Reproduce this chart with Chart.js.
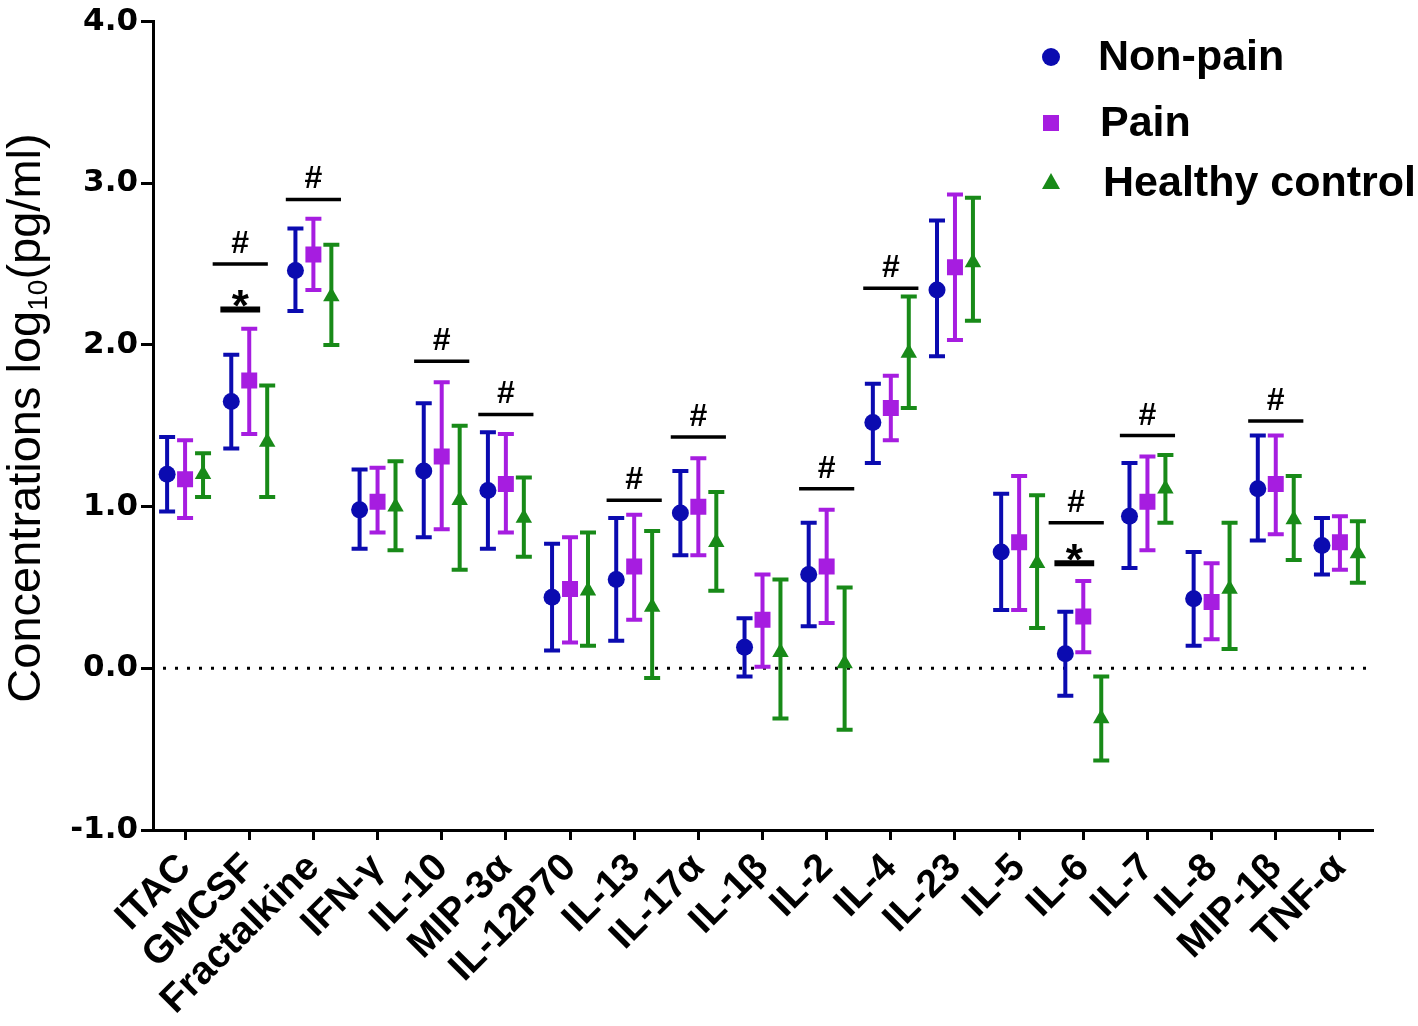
<!DOCTYPE html>
<html>
<head>
<meta charset="utf-8">
<script src="https://cdn.jsdelivr.net/npm/chart.js@4/dist/chart.umd.min.js"></script>
<style>
  html, body { margin: 0; padding: 0; background: #fff; }
  #wrap { width: 1418px; height: 1026px; position: relative; }
</style>
</head>
<body>
<div id="wrap"><canvas id="chart"></canvas></div>
<script>
// categories (x axis)
var categories = ['ITAC', 'GMCSF', 'Fractalkine', 'IFN-γ', 'IL-10', 'MIP-3α', 'IL-12P70', 'IL-13', 'IL-17α',
    'IL-1β', 'IL-2', 'IL-4', 'IL-23', 'IL-5', 'IL-6', 'IL-7', 'IL-8', 'MIP-1β', 'TNF-α'];

// Non-pain : mean, lower / upper end of error bar
var nonPainMean = [1.20, 1.65, 2.46, 0.98, 1.22, 1.10, 0.44, 0.55, 0.96, 0.13, 0.58, 1.52, 2.34, 0.72, 0.09, 0.94, 0.43, 1.11, 0.76];
var nonPainLow  = [0.97, 1.36, 2.21, 0.74, 0.81, 0.74, 0.11, 0.17, 0.70, -0.05, 0.26, 1.27, 1.93, 0.36, -0.17, 0.62, 0.14, 0.79, 0.58];
var nonPainHigh = [1.43, 1.94, 2.72, 1.23, 1.64, 1.46, 0.77, 0.93, 1.22, 0.31, 0.90, 1.76, 2.77, 1.08, 0.35, 1.27, 0.72, 1.44, 0.93];

// Pain
var painMean = [1.17, 1.78, 2.56, 1.03, 1.31, 1.14, 0.49, 0.63, 1.00, 0.30, 0.63, 1.61, 2.48, 0.78, 0.32, 1.03, 0.41, 1.14, 0.78];
var painLow  = [0.93, 1.45, 2.34, 0.84, 0.86, 0.84, 0.16, 0.30, 0.70, 0.01, 0.28, 1.41, 2.03, 0.36, 0.10, 0.73, 0.18, 0.83, 0.61];
var painHigh = [1.41, 2.10, 2.78, 1.24, 1.77, 1.45, 0.81, 0.95, 1.30, 0.58, 0.98, 1.81, 2.93, 1.19, 0.54, 1.31, 0.65, 1.44, 0.94];

// Healthy control
var healthyMean = [1.20, 1.40, 2.30, 1.00, 1.04, 0.93, 0.48, 0.38, 0.78, 0.10, 0.03, 1.95, 2.51, 0.65, -0.31, 1.11, 0.49, 0.92, 0.71];
var healthyLow  = [1.06, 1.06, 2.00, 0.73, 0.61, 0.69, 0.14, -0.06, 0.48, -0.31, -0.38, 1.61, 2.15, 0.25, -0.57, 0.90, 0.12, 0.67, 0.53];
var healthyHigh = [1.33, 1.75, 2.62, 1.28, 1.50, 1.18, 0.84, 0.85, 1.09, 0.55, 0.50, 2.30, 2.91, 1.07, -0.05, 1.32, 0.90, 1.19, 0.91];

// significance marks: x position (category index), y level, symbol
var sigX      = [0.86, 0.86, 2, 4, 5, 7, 8, 10, 11, 13.89, 13.86, 15, 17];
var sigLevel  = [2.50, 2.22, 2.90, 1.90, 1.57, 1.04, 1.43, 1.11, 2.35, 0.90, 0.65, 1.44, 1.53];
var sigSymbol = ['#', '*', '#', '#', '#', '#', '#', '#', '#', '#', '*', '#', '#'];

var yTicks = [-1, 0, 1, 2, 3, 4];

var groupNames = ['Non-pain', 'Pain', 'Healthy control'];
var groupColors = ['#0b0bb0', '#a61de0', '#188a18'];
var groupShift = [-0.28, 0, 0.28];

function buildPoints(mean, low, high, shift) {
    var pts = [];
    for (var i = 0; i < mean.length; i++) {
        pts.push({x: i + shift, y: mean[i], low: low[i], high: high[i]});
    }
    return pts;
}

var FONT = "'Liberation Sans', Arial, sans-serif";

/* error bars + zero line */
var errorBarPlugin = {
    id: 'errorBars',
    beforeDatasetsDraw: function (chart) {
        var ctx = chart.ctx;
        var xs = chart.scales.x, ys = chart.scales.y;
        var area = chart.chartArea;

        // dotted line at 0
        var y0 = ys.getPixelForValue(0);
        ctx.save();
        ctx.strokeStyle = '#000';
        ctx.lineWidth = 3;
        ctx.setLineDash([3, 9]);
        ctx.beginPath();
        ctx.moveTo(area.left + 10, y0);
        ctx.lineTo(area.right, y0);
        ctx.stroke();
        ctx.restore();

        chart.data.datasets.forEach(function (ds) {
            ctx.save();
            ctx.strokeStyle = ds.borderColor;
            ctx.lineWidth = 4;
            ds.data.forEach(function (p) {
                var x = xs.getPixelForValue(p.x);
                var yl = ys.getPixelForValue(p.low);
                var yh = ys.getPixelForValue(p.high);
                ctx.beginPath();
                ctx.moveTo(x, yl);
                ctx.lineTo(x, yh);
                ctx.moveTo(x - 8, yl);
                ctx.lineTo(x + 8, yl);
                ctx.moveTo(x - 8, yh);
                ctx.lineTo(x + 8, yh);
                ctx.stroke();
            });
            ctx.restore();
        });
    }
};

/* # and * marks over the groups */
var sigPlugin = {
    id: 'sigMarks',
    afterDatasetsDraw: function (chart) {
        var ctx = chart.ctx;
        var xs = chart.scales.x, ys = chart.scales.y;
        ctx.save();
        ctx.fillStyle = '#000';
        ctx.strokeStyle = '#000';
        ctx.textAlign = 'center';
        ctx.textBaseline = 'alphabetic';
        for (var i = 0; i < sigX.length; i++) {
            var star = sigSymbol[i] === '*';
            var half = star ? 0.31 : 0.43;
            var x1 = xs.getPixelForValue(sigX[i] - half);
            var x2 = xs.getPixelForValue(sigX[i] + half);
            var y = ys.getPixelForValue(sigLevel[i]);
            ctx.lineWidth = star ? 6 : 3.5;
            ctx.beginPath();
            ctx.moveTo(x1, y);
            ctx.lineTo(x2, y);
            ctx.stroke();
            var cx = xs.getPixelForValue(sigX[i]);
            if (star) {
                ctx.font = 'bold 44px ' + FONT;
                ctx.fillText('*', cx, y + 12);
            } else {
                ctx.font = 'bold 32px ' + FONT;
                ctx.fillText('#', cx, y - 11);
            }
        }
        ctx.restore();
    }
};

/* legend (top right) and y title with subscript */
var decorPlugin = {
    id: 'decor',
    afterDraw: function (chart) {
        var ctx = chart.ctx;
        ctx.save();
        var lx = 1051, rows = [57, 123, 183], tx = [1098, 1100, 1103];
        for (var i = 0; i < groupNames.length; i++) {
            var y = rows[i];
            ctx.fillStyle = groupColors[i];
            ctx.beginPath();
            if (i === 0) {
                ctx.arc(lx, y, 9, 0, Math.PI * 2);
            } else if (i === 1) {
                ctx.rect(lx - 8, y - 8, 16, 16);
            } else {
                ctx.moveTo(lx, y - 10);
                ctx.lineTo(lx + 9, y + 6);
                ctx.lineTo(lx - 9, y + 6);
                ctx.closePath();
            }
            ctx.fill();
            ctx.fillStyle = '#000';
            ctx.font = 'bold 43px ' + FONT;
            ctx.textAlign = 'left';
            ctx.textBaseline = 'middle';
            ctx.fillText(groupNames[i], tx[i], y + 1);
        }

        // y axis title
        ctx.translate(40, 418);
        ctx.rotate(-Math.PI / 2);
        ctx.fillStyle = '#000';
        ctx.textBaseline = 'alphabetic';
        var big = '47px ' + FONT, small = '28px ' + FONT;
        var p1 = 'Concentrations log', p2 = '10', p3 = '(pg/ml)';
        ctx.font = big;
        var w1 = ctx.measureText(p1).width, w3 = ctx.measureText(p3).width;
        ctx.font = small;
        var w2 = ctx.measureText(p2).width;
        var start = -(w1 + w2 + w3) / 2;
        ctx.textAlign = 'left';
        ctx.font = big;
        ctx.fillText(p1, start, 0);
        ctx.font = small;
        ctx.fillText(p2, start + w1, 7);
        ctx.font = big;
        ctx.fillText(p3, start + w1 + w2, 0);
        ctx.restore();
    }
};

var datasets = [
    {label: groupNames[0], data: buildPoints(nonPainMean, nonPainLow, nonPainHigh, groupShift[0]), pointStyle: 'circle', pointRadius: 8.5},
    {label: groupNames[1], data: buildPoints(painMean, painLow, painHigh, groupShift[1]), pointStyle: 'rect', pointRadius: 11.3},
    {label: groupNames[2], data: buildPoints(healthyMean, healthyLow, healthyHigh, groupShift[2]), pointStyle: 'triangle', pointRadius: 9.5}
];
datasets.forEach(function (ds, i) {
    ds.backgroundColor = groupColors[i];
    ds.borderColor = groupColors[i];
    ds.borderWidth = 0;
    ds.pointHoverRadius = ds.pointRadius;
    ds.showLine = false;
});

new Chart(document.getElementById('chart'), {
    type: 'scatter',
    data: {datasets: datasets},
    options: {
        responsive: true,
        maintainAspectRatio: false,
        animation: false,
        layout: {padding: {top: 17, right: 46, left: 0, bottom: 0}},
        plugins: {legend: {display: false}, tooltip: {enabled: false}},
        scales: {
            x: {
                type: 'linear',
                min: -0.5,
                max: categories.length - 0.5,
                afterBuildTicks: function (scale) {
                    scale.ticks = categories.map(function (c, i) { return {value: i}; });
                },
                afterFit: function (scale) { scale.height = 196; },
                border: {color: '#000', width: 3},
                grid: {drawOnChartArea: false, drawTicks: true, tickLength: 10, color: '#000', lineWidth: 3},
                ticks: {
                    autoSkip: false,
                    minRotation: 45,
                    maxRotation: 45,
                    padding: 5,
                    color: '#000',
                    font: {family: FONT, size: 39, weight: 'bold'},
                    callback: function (v) { return categories[v]; }
                }
            },
            y: {
                min: -1,
                max: 4,
                afterBuildTicks: function (scale) {
                    scale.ticks = yTicks.map(function (v) { return {value: v}; });
                },
                afterFit: function (scale) { scale.width = 153; },
                border: {color: '#000', width: 3},
                grid: {drawOnChartArea: false, drawTicks: true, tickLength: 12, color: '#000', lineWidth: 3},
                ticks: {
                    padding: 3,
                    color: '#000',
                    font: {family: "'DejaVu Sans', sans-serif", size: 31, weight: 'bold'},
                    callback: function (v) { return v.toFixed(1); }
                }
            }
        }
    },
    plugins: [errorBarPlugin, sigPlugin, decorPlugin]
});
</script>
</body>
</html>
